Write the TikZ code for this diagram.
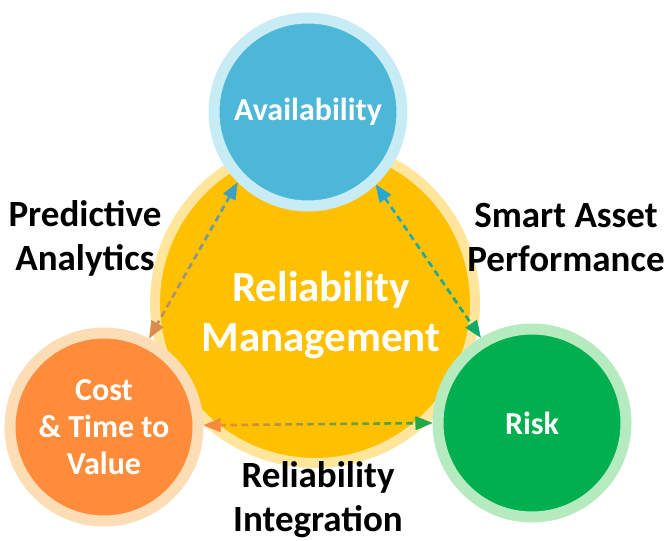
\documentclass[tikz,border=0pt]{standalone}
\usepackage{fontspec}
\setmainfont{Carlito}
\usetikzlibrary{arrows.meta,positioning,decorations.markings}

\definecolor{coreyellow}{HTML}{FFC000}
\definecolor{corering}{HTML}{FFE69C}
\definecolor{availblue}{HTML}{4DB7D7}
\definecolor{availring}{HTML}{C8ECF6}
\definecolor{costorange}{HTML}{FF8C3B}
\definecolor{costring}{HTML}{FCDDB6}
\definecolor{riskgreen}{HTML}{00AF50}
\definecolor{riskring}{HTML}{B6EABF}
% tip colours of the dashed links
\definecolor{tipblue}{HTML}{3FA0C6}
\definecolor{tipcyan}{HTML}{22A8D2}
\definecolor{tiporange}{HTML}{DC8A4E}
\definecolor{tipamber}{HTML}{F88A3E}
\definecolor{tipteal}{HTML}{0EAA6C}
\definecolor{tipgreen}{HTML}{22A84A}

\begin{document}
\begin{tikzpicture}[x=1pt,y=-1pt,on grid,
  hub/.style={circle,draw=corering,fill=coreyellow,line width=10pt,minimum size=320pt},
  pillar/.style={circle,line width=11pt,minimum size=188pt,text=white,align=center,
    font=\bfseries\fontsize{32}{37}\selectfont},
  theme/.style={align=center,font=\bfseries\fontsize{37}{44}\selectfont},
  link/.style 2 args={postaction={decorate},
    decoration={markings,
      mark=between positions 16pt and -16pt step 11pt with {
        \pgfmathsetmacro\mixpct{100-100*(\pgfkeysvalueof{/pgf/decoration/mark info/distance from start}/\pgfdecoratedpathlength)}
        \draw[draw=#1!\mixpct!#2,line width=2.6pt] (0pt,0pt) -- (6.5pt,0pt);
      },
      mark=at position 0 with {\arrowreversed[#1]{Triangle[length=17pt,width=14pt]}},
      mark=at position 1 with {\arrow[#2]{Triangle[length=17pt,width=14pt]}}}}]
  \useasboundingbox (0,0) rectangle (668,540);

  \node[hub] (core) at (315,303) {};
  \node[text=white,align=center,font=\bfseries\fontsize{43}{50}\selectfont]
    (coretext) at ([xshift=6pt,yshift=-12pt]core.center) {Reliability\\Management};

  \node[pillar,draw=availring,fill=availblue] (avail) [above left=191pt and 7pt of core] {Availability};
  \node[pillar,draw=costring,fill=costorange] (cost) [below left=124pt and 211pt of core] {Cost\\\& Time to\\Value};
  \node[pillar,draw=riskring,fill=riskgreen] (risk) [below right=120pt and 217pt of core] {Risk};

  \path[link={tipblue}{tiporange}] (avail.225) -- (cost.63);
  \path[link={tipcyan}{tipteal}] (avail.313) -- (risk.121);
  \path[link={tipamber}{tipgreen}] (cost.1) -- (risk.180);

  \node[theme] (predict) at (85,238) {Predictive\\Analytics};
  \node[theme] (smart) at (566,238) {Smart Asset\\Performance};
  \node[theme] (integr) at (318,500) {Reliability\\Integration};
\end{tikzpicture}
\end{document}
